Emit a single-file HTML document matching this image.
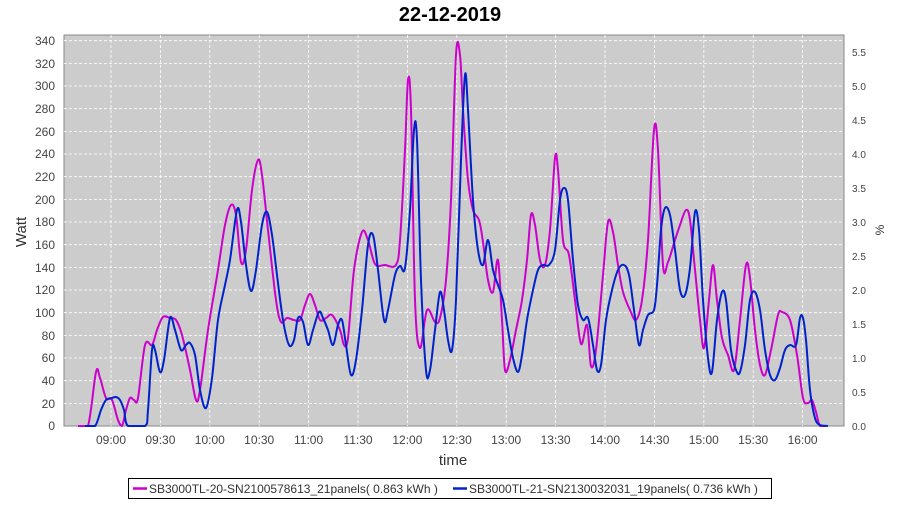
<!DOCTYPE html><html><head><style>body{margin:0;background:#fff}svg{font-family:"Liberation Sans",sans-serif}</style></head><body>
<svg id="s" width="900" height="500" xmlns="http://www.w3.org/2000/svg">
<text x="450" y="21" text-anchor="middle" font-size="20" font-weight="bold">22-12-2019</text>
<rect x="64" y="35" width="780" height="391" fill="#cccccc" stroke="#888" stroke-width="1"/>
<g stroke="#fff" stroke-dasharray="3,2" stroke-width="0.8">
<line x1="64" x2="844" y1="40.7" y2="40.7"/><line x1="64" x2="844" y1="63.4" y2="63.4"/><line x1="64" x2="844" y1="86" y2="86"/><line x1="64" x2="844" y1="108.7" y2="108.7"/><line x1="64" x2="844" y1="131.4" y2="131.4"/><line x1="64" x2="844" y1="154" y2="154"/><line x1="64" x2="844" y1="176.7" y2="176.7"/><line x1="64" x2="844" y1="199.4" y2="199.4"/><line x1="64" x2="844" y1="222" y2="222"/><line x1="64" x2="844" y1="244.7" y2="244.7"/><line x1="64" x2="844" y1="267.4" y2="267.4"/><line x1="64" x2="844" y1="290" y2="290"/><line x1="64" x2="844" y1="312.7" y2="312.7"/><line x1="64" x2="844" y1="335.4" y2="335.4"/><line x1="64" x2="844" y1="358" y2="358"/><line x1="64" x2="844" y1="380.7" y2="380.7"/><line x1="64" x2="844" y1="403.4" y2="403.4"/>
<line y1="35" y2="426" x1="111" x2="111"/><line y1="35" y2="426" x1="160.4" x2="160.4"/><line y1="35" y2="426" x1="209.8" x2="209.8"/><line y1="35" y2="426" x1="259.2" x2="259.2"/><line y1="35" y2="426" x1="308.6" x2="308.6"/><line y1="35" y2="426" x1="358" x2="358"/><line y1="35" y2="426" x1="407.4" x2="407.4"/><line y1="35" y2="426" x1="456.8" x2="456.8"/><line y1="35" y2="426" x1="506.2" x2="506.2"/><line y1="35" y2="426" x1="555.6" x2="555.6"/><line y1="35" y2="426" x1="605" x2="605"/><line y1="35" y2="426" x1="654.4" x2="654.4"/><line y1="35" y2="426" x1="703.8" x2="703.8"/><line y1="35" y2="426" x1="753.2" x2="753.2"/><line y1="35" y2="426" x1="802.6" x2="802.6"/>
</g>
<g font-size="12" fill="#444" text-anchor="end">
<text x="55" y="45">340</text><text x="55" y="68">320</text><text x="55" y="90">300</text><text x="55" y="113">280</text><text x="55" y="136">260</text><text x="55" y="158">240</text><text x="55" y="181">220</text><text x="55" y="204">200</text><text x="55" y="226">180</text><text x="55" y="249">160</text><text x="55" y="272">140</text><text x="55" y="294">120</text><text x="55" y="317">100</text><text x="55" y="340">80</text><text x="55" y="362">60</text><text x="55" y="385">40</text><text x="55" y="408">20</text><text x="55" y="430">0</text>
</g>
<g font-size="10" fill="#444">
<text x="852" y="56">5.5</text><text x="852" y="90">5.0</text><text x="852" y="124">4.5</text><text x="852" y="158">4.0</text><text x="852" y="192">3.5</text><text x="852" y="226">3.0</text><text x="852" y="260">2.5</text><text x="852" y="294">2.0</text><text x="852" y="328">1.5</text><text x="852" y="362">1.0</text><text x="852" y="396">0.5</text><text x="852" y="430">0.0</text>
</g>
<g font-size="12" fill="#444" text-anchor="middle">
<text x="111" y="444">09:00</text><text x="160.4" y="444">09:30</text><text x="209.8" y="444">10:00</text><text x="259.2" y="444">10:30</text><text x="308.6" y="444">11:00</text><text x="358" y="444">11:30</text><text x="407.4" y="444">12:00</text><text x="456.8" y="444">12:30</text><text x="506.2" y="444">13:00</text><text x="555.6" y="444">13:30</text><text x="605" y="444">14:00</text><text x="654.4" y="444">14:30</text><text x="703.8" y="444">15:00</text><text x="753.2" y="444">15:30</text><text x="802.6" y="444">16:00</text>
</g>
<text x="453" y="465" text-anchor="middle" font-size="15" fill="#333">time</text>
<text x="26" y="232" text-anchor="middle" font-size="15" fill="#333" transform="rotate(-90 26 232)">Watt</text>
<text x="884" y="230" text-anchor="middle" font-size="12" fill="#333" transform="rotate(-90 884 230)">%</text>
<polyline class="sm" fill="none" stroke="#cc00cc" stroke-width="2" stroke-linejoin="round" points="78,426 88,426 96,372 100,378 106,398 112,400 118,420 122,426 126,410 130,398 134,400 138,398 145,345 152,345 157,330 163,317 170,318 176,320 182,335 190,370 196,400 200,390 208,330 218,270 225,225 231,205 236,215 241,262 246,250 252,190 258,160 262,175 268,230 276,300 281,322 287,318 294,320 300,320 305,305 310,294 315,305 320,320 326,318 332,315 340,330 344,345 348,338 354,270 362,232 368,240 375,264 385,265 396,265 400,240 405,150 408,80 411,110 415,300 420,348 427,310 435,322 440,318 446,280 451,200 456,55 460,55 463,110 468,180 473,210 479,220 483,242 488,280 493,292 498,260 502,320 505,370 510,360 516,330 522,300 527,260 531,215 535,225 540,260 545,265 550,230 555,158 558,170 563,240 569,255 575,300 581,344 587,325 591,366 596,350 603,275 608,222 613,232 618,265 623,292 630,310 636,320 642,300 648,240 654,130 658,150 663,265 668,262 675,240 680,225 686,210 690,220 695,270 700,320 704,348 709,300 713,265 717,300 722,338 728,355 734,370 740,320 746,265 750,278 755,330 760,365 765,375 771,350 778,315 782,312 790,320 797,355 803,398 808,403 812,400 816,412 820,426 826,426"/>
<polyline class="sm" fill="none" stroke="#0022cc" stroke-width="2" stroke-linejoin="round" points="85,426 95,426 101,410 106,400 112,398 116,397 120,400 124,410 128,426 145,426 148,410 152,350 155,350 160,372 164,360 170,318 175,330 181,350 186,345 190,343 195,355 200,390 206,408 212,378 218,320 225,285 230,260 237,210 241,222 246,265 251,291 256,270 262,225 267,212 272,235 277,275 283,320 289,345 294,340 298,318 303,322 308,345 313,330 319,312 323,318 328,330 333,345 338,325 342,320 346,345 351,375 356,360 362,310 368,245 373,235 378,270 384,320 388,310 395,275 400,266 405,268 410,210 414,130 417,140 421,280 426,370 430,370 435,330 440,292 444,310 448,340 452,350 456,300 461,160 465,75 468,110 473,200 478,250 483,265 488,240 493,270 498,285 503,300 508,330 513,358 518,372 522,355 527,320 533,290 538,270 543,265 549,265 555,250 560,200 564,188 568,200 573,260 578,305 583,320 588,318 593,345 597,370 601,365 606,320 612,290 618,270 624,265 629,275 634,310 639,345 643,330 648,315 654,310 657,285 661,230 665,208 670,215 675,250 680,290 685,295 690,268 695,212 699,230 703,300 708,358 712,372 717,320 722,292 726,300 731,350 736,370 740,372 745,345 750,300 755,292 760,310 765,350 770,375 775,380 780,368 785,350 790,345 796,345 800,318 803,318 806,340 810,390 815,418 820,425 828,426"/>
<rect x="128.5" y="478.5" width="643" height="20" fill="#fff" stroke="#000"/>
<line x1="133" x2="147" y1="488.5" y2="488.5" stroke="#cc00cc" stroke-width="2.5"/>
<text x="149" y="493" font-size="12" fill="#333">SB3000TL-20-SN2100578613_21panels( 0.863 kWh )</text>
<line x1="453" x2="467" y1="488.5" y2="488.5" stroke="#0022cc" stroke-width="2.5"/>
<text x="469" y="493" font-size="12" fill="#333">SB3000TL-21-SN2130032031_19panels( 0.736 kWh )</text>
</svg>
<script>
document.querySelectorAll('polyline.sm').forEach(function(pl){
var p=pl.getAttribute('points').trim().split(/\s+/).map(function(s){return s.split(',').map(Number)});
var d='M'+p[0][0]+','+p[0][1];
for(var i=0;i<p.length-1;i++){
var p0=p[i-1]||p[i],p1=p[i],p2=p[i+1],p3=p[i+2]||p2;
var c1x=p1[0]+(p2[0]-p0[0])/6,c1y=p1[1]+(p2[1]-p0[1])/6;
var c2x=p2[0]-(p3[0]-p1[0])/6,c2y=p2[1]-(p3[1]-p1[1])/6;
c1y=Math.min(426,c1y);c2y=Math.min(426,c2y);
d+=' C'+c1x.toFixed(1)+','+c1y.toFixed(1)+' '+c2x.toFixed(1)+','+c2y.toFixed(1)+' '+p2[0]+','+p2[1];}
var path=document.createElementNS('http://www.w3.org/2000/svg','path');
path.setAttribute('d',d);path.setAttribute('fill','none');path.setAttribute('stroke',pl.getAttribute('stroke'));path.setAttribute('stroke-width','2');
pl.parentNode.replaceChild(path,pl);});
</script>
</body></html>
